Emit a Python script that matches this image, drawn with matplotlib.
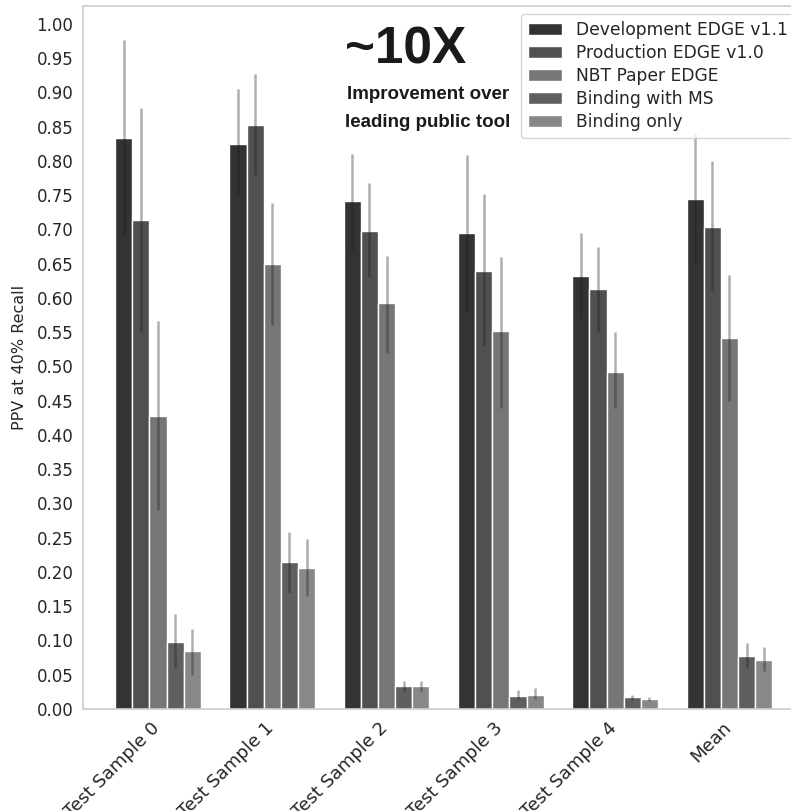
import matplotlib
matplotlib.use('Agg')
import matplotlib.pyplot as plt
import matplotlib.transforms as mtransforms
import numpy as np

# PPV at 40% recall per test sample, with confidence interval bounds
groups = ["Test Sample 0", "Test Sample 1", "Test Sample 2",
          "Test Sample 3", "Test Sample 4", "Mean"]
methods = ["Development EDGE v1.1", "Production EDGE v1.0", "NBT Paper EDGE",
           "Binding with MS", "Binding only"]

dev_ppv = [0.833, 0.825, 0.741, 0.695, 0.632, 0.745]
dev_lo = [0.690, 0.750, 0.670, 0.580, 0.570, 0.650]
dev_hi = [0.977, 0.905, 0.810, 0.808, 0.694, 0.840]

prod_ppv = [0.713, 0.852, 0.698, 0.639, 0.613, 0.703]
prod_lo = [0.550, 0.780, 0.630, 0.530, 0.550, 0.610]
prod_hi = [0.877, 0.927, 0.768, 0.752, 0.675, 0.800]

nbt_ppv = [0.427, 0.649, 0.592, 0.551, 0.492, 0.542]
nbt_lo = [0.290, 0.560, 0.520, 0.440, 0.440, 0.450]
nbt_hi = [0.567, 0.739, 0.661, 0.659, 0.550, 0.634]

ms_ppv = [0.098, 0.215, 0.033, 0.019, 0.017, 0.077]
ms_lo = [0.060, 0.170, 0.027, 0.014, 0.013, 0.060]
ms_hi = [0.138, 0.258, 0.041, 0.028, 0.021, 0.097]

bind_ppv = [0.084, 0.206, 0.033, 0.021, 0.014, 0.071]
bind_lo = [0.050, 0.165, 0.027, 0.014, 0.011, 0.055]
bind_hi = [0.117, 0.248, 0.041, 0.030, 0.017, 0.091]

colors = ["#333333", "#505050", "#767676", "#5f5f5f", "#888888"]

series = [
    (dev_ppv, dev_lo, dev_hi),
    (prod_ppv, prod_lo, prod_hi),
    (nbt_ppv, nbt_lo, nbt_hi),
    (ms_ppv, ms_lo, ms_hi),
    (bind_ppv, bind_lo, bind_hi),
]

plt.rcParams['font.family'] = ['DejaVu Sans']
plt.rcParams['text.color'] = '#262626'
plt.rcParams['axes.labelcolor'] = '#262626'
plt.rcParams['xtick.color'] = '#262626'
plt.rcParams['ytick.color'] = '#262626'

fig = plt.figure(figsize=(7.91, 8.11), dpi=100)
# axes run past the right edge of the figure
ax = fig.add_axes([83 / 791, 102 / 811, 757 / 791, 703 / 811])

x = np.arange(len(groups))
bar_w = 0.15
for i, (name, (vals, lo, hi), c) in enumerate(zip(methods, series, colors)):
    pos = x + (i - 2) * bar_w
    ax.bar(pos, vals, width=bar_w, color=c, edgecolor='white',
           linewidth=1.0, label=name, zorder=2)
    ax.vlines(pos, lo, hi, color='#1a1a1a', alpha=0.35, lw=1.8, zorder=3)

ax.set_xlim(-0.656, 5.967)
ax.set_ylim(0, 1.026)
yt = np.arange(0, 1.001, 0.05)
ax.set_yticks(yt)
ax.set_yticklabels([f"{v:.2f}" for v in yt], fontsize=12)
ax.set_xticks(x)
ax.set_xticklabels(groups, rotation=45, ha='right', fontsize=13)
ax.tick_params(length=0, pad=7)

# nudge the rotated group labels a little to the right
shift = mtransforms.ScaledTranslation(5 / 100, 0, fig.dpi_scale_trans)
for lbl in ax.get_xticklabels():
    lbl.set_transform(lbl.get_transform() + shift)

ax.set_ylabel("PPV at 40% Recall", fontsize=11.5)
ax.yaxis.set_label_coords(-0.074, 0.5)

for sp in ax.spines.values():
    sp.set_color('#cccccc')
    sp.set_linewidth(1.2)

leg = ax.legend(loc='upper left', bbox_to_anchor=(521 / 791, 1 - 14 / 811),
                bbox_transform=fig.transFigure, borderaxespad=0,
                fontsize=12.3, labelspacing=0.3, frameon=True)
leg.get_frame().set_edgecolor('#cccccc')

fig.text(406 / 791, 1 - 63 / 811, "~10X", ha='center', va='baseline',
         fontsize=37, fontweight='bold', family='Liberation Sans', color='#1a1a1a')
fig.text(428 / 791, 1 - 99 / 811, "Improvement over", ha='center', va='baseline',
         fontsize=13.5, fontweight='bold', family='Liberation Sans', color='#1a1a1a')
fig.text(428 / 791, 1 - 127 / 811, "leading public tool", ha='center', va='baseline',
         fontsize=13.5, fontweight='bold', family='Liberation Sans', color='#1a1a1a')

fig.savefig("out.png", dpi=100)
